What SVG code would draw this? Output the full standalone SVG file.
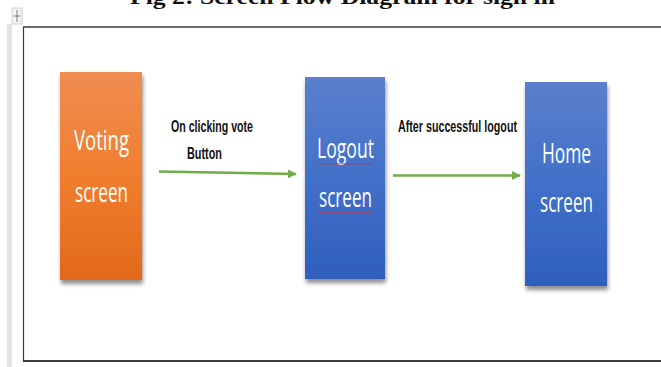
<svg xmlns="http://www.w3.org/2000/svg" width="661" height="367" viewBox="0 0 661 367">
  <defs>
    <linearGradient id="gOrange" x1="0" y1="0" x2="0" y2="1">
      <stop offset="0" stop-color="#EF8D52"/>
      <stop offset="0.5" stop-color="#F07E2E"/>
      <stop offset="1" stop-color="#E2691B"/>
    </linearGradient>
    <linearGradient id="gBlue" x1="0" y1="0" x2="0" y2="1">
      <stop offset="0" stop-color="#5B80CD"/>
      <stop offset="0.5" stop-color="#4170C8"/>
      <stop offset="1" stop-color="#2F5FBD"/>
    </linearGradient>
    <filter id="shadow" x="-20%" y="-10%" width="140%" height="125%">
      <feGaussianBlur in="SourceAlpha" stdDeviation="2.2"/>
      <feOffset dx="1" dy="4" result="b"/>
      <feComponentTransfer><feFuncA type="linear" slope="0.45"/></feComponentTransfer>
      <feMerge><feMergeNode/><feMergeNode in="SourceGraphic"/></feMerge>
    </filter>
    <marker id="arrow" viewBox="0 0 10 10" refX="9" refY="5" markerWidth="3.4" markerHeight="3.4" orient="auto" markerUnits="strokeWidth">
      <path d="M0,0 L10,5 L0,10 z" fill="#70AD47"/>
    </marker>
    <!-- spell-check squiggle -->
    <path id="squiggle" d="M0,1.5 l1.5,-1.5 l1.5,1.5 l1.5,-1.5 l1.5,1.5 l1.5,-1.5 l1.5,1.5 l1.5,-1.5 l1.5,1.5 l1.5,-1.5 l1.5,1.5 l1.5,-1.5 l1.5,1.5 l1.5,-1.5 l1.5,1.5 l1.5,-1.5 l1.5,1.5 l1.5,-1.5 l1.5,1.5 l1.5,-1.5 l1.5,1.5 l1.5,-1.5 l1.5,1.5 l1.5,-1.5 l1.5,1.5 l1.5,-1.5 l1.5,1.5 l1.5,-1.5 l1.5,1.5 l1.5,-1.5 l1.5,1.5 l1.5,-1.5 l1.5,1.5 l1.5,-1.5 l1.5,1.5 l1.5,-1.5 l1.5,1.5" fill="none" stroke="#D42A2A" stroke-width="0.9"/>
  </defs>
  <style>
    .box-label { font-family: "Liberation Sans Narrow", "Open Sans", "Liberation Sans", sans-serif; font-size: 27px; fill: #ffffff; text-anchor: middle; }
    .edge-label { font-family: "Liberation Sans Narrow", "Liberation Sans", sans-serif; font-size: 16.5px; font-weight: bold; fill: #111111; }
    .edge { fill: none; stroke: #70AD47; stroke-width: 2.6; marker-end: url(#arrow); }
    .frame { stroke: #3a3a3a; fill: none; }
  </style>

  <rect width="661" height="367" fill="#ffffff"/>

  <!-- caption, clipped at the top edge -->
  <text x="130" y="4" font-family="Liberation Serif, serif" font-weight="bold" font-size="21" textLength="425" lengthAdjust="spacingAndGlyphs" fill="#111">Fig 2: Screen Flow Diagram for sign in</text>

  <!-- page margin strip and table handle -->
  <rect x="7" y="24" width="5" height="343" fill="#e4e4e4"/>
  <rect x="12" y="8" width="10" height="16" fill="#f4f4f4" stroke="#c8c8c8" stroke-width="0.8"/>
  <g stroke="#666" stroke-width="0.8" fill="none">
    <line x1="17" y1="10" x2="17" y2="22"/>
    <line x1="13.5" y1="16" x2="20.5" y2="16"/>
  </g>

  <!-- table frame -->
  <line class="frame" x1="23" y1="27" x2="661" y2="27" stroke-width="1.6"/>
  <line class="frame" x1="23.5" y1="27" x2="23.5" y2="362" stroke-width="1.2"/>
  <line class="frame" x1="23" y1="361" x2="661" y2="361" stroke-width="2"/>

  <!-- screens -->
  <g id="voting-screen">
    <rect x="60" y="72" width="82" height="208" fill="url(#gOrange)" filter="url(#shadow)"/>
    <text class="box-label" x="101.5" y="150" textLength="55" lengthAdjust="spacingAndGlyphs">Voting</text>
    <text class="box-label" x="101.5" y="202" textLength="53" lengthAdjust="spacingAndGlyphs">screen</text>
  </g>

  <g id="logout-screen">
    <rect x="305" y="77" width="80" height="202" fill="url(#gBlue)" filter="url(#shadow)"/>
    <text class="box-label" x="345.5" y="158" textLength="57" lengthAdjust="spacingAndGlyphs">Logout</text>
    <text class="box-label" x="345.5" y="207" textLength="53" lengthAdjust="spacingAndGlyphs">screen</text>
    <use href="#squiggle" x="318" y="163"/>
    <use href="#squiggle" x="318" y="212"/>
  </g>

  <g id="home-screen">
    <rect x="525" y="82" width="82" height="204" fill="url(#gBlue)" filter="url(#shadow)"/>
    <text class="box-label" x="566.5" y="163" textLength="49" lengthAdjust="spacingAndGlyphs">Home</text>
    <text class="box-label" x="566.5" y="212" textLength="53" lengthAdjust="spacingAndGlyphs">screen</text>
  </g>

  <!-- transitions -->
  <g id="connectors">
    <line class="edge" x1="159" y1="171.5" x2="296" y2="174"/>
    <line class="edge" x1="393" y1="175.5" x2="520" y2="175.5"/>
    <text class="edge-label" x="171" y="132" textLength="82" lengthAdjust="spacingAndGlyphs">On clicking vote</text>
    <text class="edge-label" x="187" y="159" textLength="35" lengthAdjust="spacingAndGlyphs">Button</text>
    <text class="edge-label" x="398" y="132" textLength="119" lengthAdjust="spacingAndGlyphs">After successful logout</text>
  </g>
</svg>
